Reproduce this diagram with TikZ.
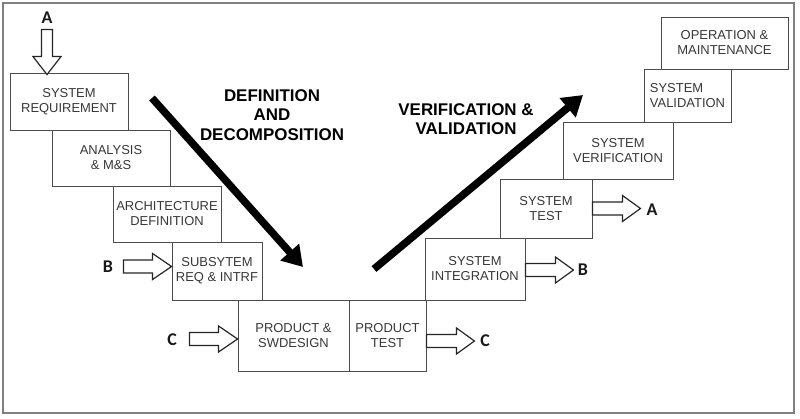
\documentclass[tikz,border=0pt]{standalone}
\usepackage{fontspec}
\setmainfont{Liberation Sans}
\newfontfamily\lblfont{Carlito}
\usetikzlibrary{arrows.meta}
\begin{document}
\begin{tikzpicture}[x=1bp,y=-1bp,
  stage/.style={draw=black!70, line width=0.9bp, inner sep=0pt, align=center, text=black!78, font=\fontsize{13}{15}\selectfont},
  hollow/.style={draw=black!85, line width=1.2bp, fill=white, line join=miter},
  letter/.style={font=\lblfont\bfseries\fontsize{18}{20}\selectfont, text=black!90, inner sep=0pt},
  phase/.style={font=\bfseries\fontsize{17}{19.5}\selectfont, align=center, inner sep=0pt},
  bigarrow/.style={line width=7.5bp, -{Triangle[length=20bp,width=24bp]}},
  pics/rout/.style={code={\draw[hollow] (0,-6.5) -- (30,-6.5) -- (30,-13) -- (48,0) -- (30,13) -- (30,6.5) -- (0,6.5) -- cycle;}},
  pics/rin/.style={code={\draw[hollow] (-48,-6.5) -- (-19,-6.5) -- (-19,-13) -- (0,0) -- (-19,13) -- (-19,6.5) -- (-48,6.5) -- cycle;}},
  pics/dnin/.style={code={\draw[hollow] (-5.5,-45) -- (-5.5,-18) -- (-14,-18) -- (0,0) -- (14,-18) -- (5.5,-18) -- (5.5,-45) -- cycle;}},
]
\useasboundingbox (0,0) rectangle (800,418);
\fill[white] (0,0) rectangle (800,418);
\draw[black!50, line width=2.2bp] (3,3) rectangle (794,413);

% left (definition) side
\node[stage, minimum width=118bp, minimum height=57bp] (sr) at (69,101.5) {SYSTEM\\REQUIREMENT};
\node[stage, minimum width=118bp, minimum height=56bp] (an) at (111,158) {ANALYSIS\\\& M\&S};
\node[stage, minimum width=108bp, minimum height=56bp] (ar) at (167,214) {ARCHITECTURE\\DEFINITION};
\node[stage, minimum width=90bp, minimum height=58bp] (ss) at (217,271) {SUBSYTEM\\REQ \& INTRF};
\node[stage, minimum width=111bp, minimum height=71bp] (pd) at (293.5,335.5) {PRODUCT \&\\SWDESIGN};
\node[stage, minimum width=77bp, minimum height=71bp] (pt) at (387.5,335.5) {PRODUCT\\TEST};

% right (verification) side
\node[stage, minimum width=100bp, minimum height=62bp] (si) at (475,269) {SYSTEM\\INTEGRATION};
\node[stage, minimum width=92bp, minimum height=59bp] (st) at (546,208.5) {SYSTEM\\TEST};
\node[stage, minimum width=110bp, minimum height=57bp] (sv) at (618,150.5) {SYSTEM\\VERIFICATION};
\node[stage, minimum width=87bp, minimum height=53bp, align=left] (sa) at (687.5,95.5) {SYSTEM\\VALIDATION};
\node[stage, minimum width=127bp, minimum height=52bp] (om) at (724.5,43) {OPERATION \&\\MAINTENANCE};

% phase labels
\node[phase] (def) at (272,115) {DEFINITION\\AND\\DECOMPOSITION};
\node[phase] (ver) at (466,119) {VERIFICATION \&\\VALIDATION};

% big arrows
\coordinate (d0) at (152,98);
\coordinate (d1) at (303,267);
\coordinate (u0) at (374,269);
\coordinate (u1) at (583,95);
\draw[bigarrow] (d0) -- (d1);
\draw[bigarrow] (u0) -- (u1);

% hollow block arrows
\pic at ([xshift=-22bp,yshift=-2bp]sr.north) {dnin};
\pic at ([yshift=4.5bp]ss.west) {rin};
\pic at ([yshift=-3.5bp]pd.west) {rin};
\pic at ([yshift=-5.5bp]pt.east) {rout};
\pic at ([yshift=-1bp]si.east) {rout};
\pic at (st.east) {rout};

% letters
\node[letter] (aTop) at (47,18) {A};
\node[letter] (bL) at (108,266.5) {B};
\node[letter] (cL) at (172,340) {C};
\node[letter] (cR) at (485,341) {C};
\node[letter] (bR) at (583,270) {B};
\node[letter] (aR) at (652,210) {A};
\end{tikzpicture}
\end{document}
